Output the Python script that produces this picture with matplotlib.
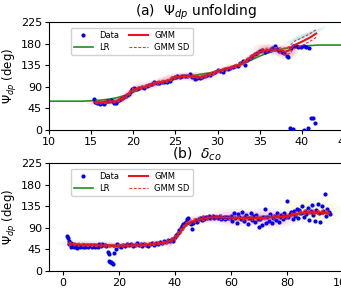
import numpy as np
import matplotlib
matplotlib.use("Agg")
import matplotlib.pyplot as plt
from matplotlib.patches import Ellipse

# ---- panel (a): Psi_dp unfolding ----
a_x = [15.3, 15.5, 15.7, 15.9, 16.1, 16.3, 16.5, 16.7, 16.9, 17.1, 17.3, 17.5,
       17.7, 17.9, 18.1, 18.3, 18.5, 18.7, 18.9, 19.1, 19.3, 19.5, 19.7, 19.9,
       20.1, 20.4, 20.7, 21.0, 21.3, 21.6, 21.9, 22.2, 22.5, 22.8, 23.1, 23.4,
       23.7, 24.0, 24.3, 24.6, 24.9, 25.2, 25.5, 25.8, 26.1, 26.4, 26.7, 27.0,
       27.3, 27.6, 27.9, 28.2, 28.5, 28.8, 29.1, 29.4, 29.7, 30.0, 30.3, 30.6,
       30.9, 31.2, 31.5, 31.8, 32.1, 32.4, 32.7, 33.0, 33.2, 33.5, 33.8, 34.1,
       34.4, 34.7, 35.0, 35.3, 35.6, 35.9, 36.2, 36.5, 36.8, 37.0, 37.3, 37.6,
       37.9, 38.2, 38.4, 38.7, 39.0, 39.3, 39.6, 39.9, 40.2, 40.5, 40.8,
       38.6, 38.9, 40.2, 40.7, 41.1, 41.3, 41.6]
a_y = [64, 58, 57, 56, 55, 57, 54, 58, 60, 61, 62, 60,
       57, 56, 60, 63, 64, 66, 68, 70, 72, 76, 82, 86,
       87, 86, 88, 89, 87, 91, 93, 96, 99, 98, 97, 100,
       101, 100, 103, 108, 111, 112, 111, 112, 112, 113, 116, 110,
       106, 109, 108, 111, 113, 114, 115, 118, 121, 124, 122, 120,
       127, 128, 130, 131, 133, 134, 140, 144, 136, 145, 150, 155,
       158, 160, 164, 166, 162, 165, 167, 170, 174, 168, 165, 163,
       160, 155, 152, 170, 174, 176, 172, 173, 174, 172, 171,
       5, 2, 1, 4, 25, 26, 15]

a_lr_x = [10, 12, 14, 15, 16, 17, 18, 19, 20, 21, 22, 23, 24, 25, 26, 27, 28, 29,
          30, 31, 32, 33, 34, 35, 36, 37, 38, 39, 40, 41, 42, 43, 45, 51]
a_lr_y = [60, 60, 60, 61, 62, 64, 67, 72, 79, 86, 92, 97, 102, 106, 110, 113,
          116, 119, 122, 127, 132, 138, 146, 154, 161, 166, 170, 173, 175, 176,
          177, 177, 177, 177]

a_gmm_x = [15.5, 16.0, 17.0, 18.0, 19.0, 20.0, 21.0, 22.0, 23.0, 24.0, 25.0,
           26.0, 27.0, 28.0, 29.0, 30.0, 31.0, 32.0, 33.0, 34.0, 35.0, 36.0,
           37.0, 37.5, 38.0, 38.5, 39.0, 40.0, 41.0, 41.7]
a_gmm_y = [58, 57, 59, 60, 68, 84, 88, 94, 99, 102, 110, 112, 112, 110, 115,
           122, 127, 132, 139, 152, 163, 167, 168, 166, 163, 166, 176, 184, 193, 201]
a_sd_up = [61, 60, 62, 63, 72, 87, 91, 97, 102, 105, 113, 115, 115, 113, 118,
           125, 130, 135, 142, 156, 167, 171, 172, 171, 170, 174, 184, 192, 201, 209]
a_sd_lo = [55, 54, 56, 57, 64, 81, 85, 91, 96, 99, 107, 109, 109, 107, 112,
           119, 124, 129, 136, 148, 159, 163, 164, 161, 157, 159, 168, 176, 185, 193]

# GMM components: mean x, mean y, sd x, sd y, correlation
a_comp = [(16.5, 58, 0.8, 3, 0.2), (19.5, 75, 0.7, 10, 0.9), (22.5, 96, 1.0, 6, 0.8),
          (25.5, 111, 1.0, 4, 0.5), (28.0, 111, 0.8, 4, 0.3), (31.0, 127, 1.0, 6, 0.9),
          (34.0, 152, 0.8, 10, 0.95), (36.8, 167, 1.0, 5, -0.3), (38.2, 162, 0.5, 6, 0.0)]
a_comp_col = ["#e06070"] * 9
a_cyan = [(40.3, 196, 1.0, 7.5, 0.95)]

# ---- panel (b): delta_co ----
b_x = [1.3, 1.7, 2.0, 2.3, 2.7, 3.0, 3.4, 3.8, 4.2, 4.6, 5.0, 5.5, 6.0, 6.5, 7.0,
       7.5, 8.0, 8.5, 9.0, 9.5, 10.0, 10.5, 11.0, 11.5, 12.0, 12.5, 13.0, 13.5,
       14.0, 14.5, 15.0, 15.5,
       16.0, 16.3, 16.6, 16.9, 17.2, 17.5, 17.8, 18.4, 18.9,
       19.3, 20.0, 20.7, 21.4, 22.1, 22.8, 23.5, 24.2, 24.9, 25.6, 26.3, 27.0,
       27.7, 28.4, 29.1, 29.8, 30.5, 31.2, 31.9, 32.6, 33.3, 34.0, 34.7, 35.4,
       36.1, 36.8, 37.5, 38.2,
       38.8, 39.4, 40.0, 40.5, 41.0, 41.5, 42.0, 42.5, 43.0, 43.5, 44.0, 44.4,
       44.8, 45.2, 45.6, 46.0, 46.5,
       47.0, 47.5, 48.0, 48.5, 49.0, 49.5, 50.0, 50.5, 51.0, 51.5, 52.0, 52.5,
       53.0, 53.5, 54.0, 54.5,
       55.0, 55.5, 56.0, 56.5, 57.0, 57.5, 58.0, 58.5, 59.0, 59.5,
       60.0, 60.5, 61.0, 61.5, 62.0, 62.5, 63.0, 63.5, 64.0, 64.5, 65.0, 65.5,
       66.0, 66.5, 67.0, 67.5, 68.0, 68.5, 69.0, 69.5,
       70.0, 70.5, 71.0, 71.5, 72.0, 72.5, 73.0, 73.5, 74.0, 74.5, 75.0, 75.5,
       76.0, 76.5, 77.0, 77.5, 78.0, 78.5, 79.0, 79.5,
       80.0, 80.5, 81.0, 81.5, 82.0, 82.5, 83.0, 83.5, 84.0, 84.5, 85.0, 85.5,
       86.0, 86.5, 87.0, 87.5, 88.0, 88.5, 89.0, 89.5,
       90.0, 90.5, 91.0, 91.5, 92.0, 92.5, 93.0, 93.5, 94.0, 94.5, 95.0, 95.5]
b_y = [72, 68, 62, 56, 50, 58, 53, 49, 55, 51, 48, 54, 50, 52, 49,
       55, 51, 53, 50, 54, 52, 49, 55, 51, 53, 50, 56, 52,
       57, 54, 55, 53,
       40, 35, 21, 19, 18, 17, 15, 38, 45,
       56, 53, 51, 55, 52, 56, 54, 57, 53, 55, 58, 54,
       56, 53, 57, 55, 52, 56, 58, 55, 59, 57, 60, 58,
       62, 60, 64, 62,
       66, 63, 70, 75, 80, 85, 90, 93, 97, 100, 103, 108,
       111, 101, 97, 88, 100,
       104, 106, 103, 108, 110, 107, 112, 109, 113, 111, 115, 110,
       112, 114, 111, 113,
       112, 110, 114, 109, 111, 113, 108, 112, 110, 111,
       115, 105, 120, 110, 100, 118, 113, 108, 122, 104, 112, 116,
       98, 110, 120, 106, 114, 102, 117, 109,
       92, 108, 96, 113, 130, 99, 112, 104, 118, 100, 110, 115,
       107, 120, 103, 112, 117, 109, 121, 113,
       145, 112, 118, 122, 108, 125, 115, 130, 110, 128, 120, 135,
       113, 126, 118, 132, 107, 124, 138, 116,
       104, 128, 140, 120, 102, 135, 125, 160, 115, 130, 122, 118]

b_lr_x = [2, 10, 20, 30, 36, 38, 40, 42, 43, 44, 46, 48, 50, 55, 60, 70, 80,
          85, 90, 95]
b_lr_y = [56, 55, 54, 55, 58, 62, 68, 80, 88, 95, 101, 105, 107, 110, 111,
          112, 115, 118, 120, 120]

b_gmm_x = [2, 5, 10, 15, 18, 22, 28, 32, 36, 38.5, 40, 42, 44, 46, 48, 50, 53,
           56, 60, 65, 70, 75, 80, 84, 88, 92, 95]
b_gmm_y = [57, 55, 54, 53, 52, 53, 54, 56, 59, 63, 68, 82, 97, 103, 106, 109,
           112, 112, 111, 110, 110, 112, 114, 120, 123, 122, 121]
b_sd_up = [60, 58, 57, 56, 55, 56, 57, 59, 62, 67, 73, 87, 101, 107, 110, 113,
           116, 116, 115, 114, 114, 116, 118, 124, 127, 126, 125]
b_sd_lo = [54, 52, 51, 50, 49, 50, 51, 53, 56, 59, 63, 77, 93, 99, 102, 105,
           108, 108, 107, 106, 106, 108, 110, 116, 119, 118, 117]

b_comp = [(8.0, 57, 4.0, 3, 0.0), (18.0, 53, 2.0, 3, 0.0), (28.0, 55, 4.0, 3, 0.1),
          (35.0, 58, 2.0, 3, 0.3), (41.0, 78, 1.5, 14, 0.97), (50.0, 108, 3.0, 4, 0.4),
          (62.0, 111, 4.0, 7, 0.0), (74.0, 110, 4.0, 8, 0.0), (89.0, 125, 4.0, 10, 0.0)]
b_comp_col = ["#9ec9e8", "#e06070", "#e06070", "#e06070", "#e06070", "#e06070",
              "#e070d0", "#e070d0", "#e8e070"]


def draw_components(ax, comps, colors):
    """Draw GMM component ellipses as soft nested layers."""
    for (mx, my, sx, sy, rho), col in zip(comps, colors):
        cov = np.array([[sx * sx, rho * sx * sy], [rho * sx * sy, sy * sy]])
        vals, vecs = np.linalg.eigh(cov)
        angle = np.degrees(np.arctan2(vecs[1, 1], vecs[0, 1]))
        for k, alpha in [(2.6, 0.10), (2.0, 0.14), (1.3, 0.18)]:
            e = Ellipse((mx, my), 2 * k * np.sqrt(vals[1]), 2 * k * np.sqrt(vals[0]),
                        angle=angle, facecolor=col, edgecolor="none", alpha=alpha,
                        zorder=1)
            ax.add_patch(e)


def draw_panel(ax, x, y, lr_x, lr_y, g_x, g_y, up, lo):
    ax.plot(x, y, ".", color="#0000ee", markersize=4, label="Data", zorder=3)
    ax.plot(lr_x, lr_y, color="#1f8f1f", lw=1.2, label="LR", zorder=2)
    ax.plot(g_x, g_y, color="#e8141e", lw=1.5, label="GMM", zorder=4)
    ax.plot(g_x, up, "--", color="#f03030", lw=0.8, dashes=(2.5, 1.5),
            label="GMM SD", zorder=4)
    ax.plot(g_x, lo, "--", color="#f03030", lw=0.8, dashes=(2.5, 1.5), zorder=4)
    ax.set_ylim(0, 225)
    ax.set_yticks([0, 45, 90, 135, 180, 225])
    ax.set_ylabel(r"$\Psi_{dp}$ (deg)", fontsize=8.5, labelpad=1)
    ax.tick_params(labelsize=8, length=3, pad=2)
    ax.legend(ncol=2, loc="upper left", bbox_to_anchor=(0.06, 0.985), fontsize=6,
              handlelength=2.2, columnspacing=1.2, framealpha=0.9,
              borderpad=0.4, labelspacing=0.3)


fig = plt.figure(figsize=(3.41, 2.90), dpi=100)
ax1 = fig.add_axes([0.1437, 0.5517, 0.8651, 0.3724])
ax2 = fig.add_axes([0.1437, 0.0655, 0.8651, 0.3724])

draw_components(ax1, a_comp, a_comp_col)
draw_components(ax1, a_cyan, ["#30c8d8"])
draw_panel(ax1, a_x, a_y, a_lr_x, a_lr_y, a_gmm_x, a_gmm_y, a_sd_up, a_sd_lo)
ax1.set_xlim(10, 45)
ax1.set_xticks([10, 15, 20, 25, 30, 35, 40, 45])
ax1.set_title(r"(a)  $\Psi_{dp}$ unfolding", fontsize=10, pad=1)

draw_components(ax2, b_comp, b_comp_col)
draw_panel(ax2, b_x, b_y, b_lr_x, b_lr_y, b_gmm_x, b_gmm_y, b_sd_up, b_sd_lo)
ax2.set_xlim(-5, 100.4)
ax2.set_xticks([0, 20, 40, 60, 80, 100])
ax2.set_title(r"(b)  $\delta_{co}$", fontsize=10, pad=1)
ax2.set_xlabel("Range (km)", fontsize=8.5, labelpad=3)

fig.savefig("out.png", dpi=100)
